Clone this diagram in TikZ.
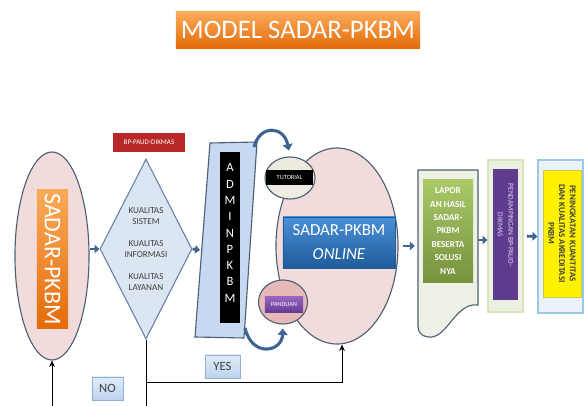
\documentclass[tikz,border=0pt]{standalone}
\usepackage{fontspec}
\setmainfont{Carlito}
\usepackage{tikz}
\usetikzlibrary{arrows.meta, positioning, shapes.geometric, calc}
\usepackage{xcolor}
\definecolor{orangelight}{RGB}{250,170,90}
\definecolor{orangedark}{RGB}{228,108,10}
\definecolor{slateline}{RGB}{79,95,115}
\definecolor{pinkfill}{RGB}{242,220,219}
\definecolor{diafill}{RGB}{220,230,242}
\definecolor{dialine}{RGB}{108,132,168}
\definecolor{adminfill}{RGB}{198,217,241}
\definecolor{bpred}{RGB}{184,40,40}
\definecolor{bluelight}{RGB}{74,144,217}
\definecolor{bluedark}{RGB}{31,92,153}
\definecolor{arrowblue}{RGB}{62,100,145}
\definecolor{tutfill}{RGB}{238,236,225}
\definecolor{panfill}{RGB}{230,185,184}
\definecolor{panlight}{RGB}{150,100,190}
\definecolor{pandark}{RGB}{100,60,150}
\definecolor{docfill}{RGB}{238,242,230}
\definecolor{greenlight}{RGB}{169,201,106}
\definecolor{greendark}{RGB}{118,146,60}
\definecolor{lgfill}{RGB}{235,241,222}
\definecolor{lgline}{RGB}{215,228,189}
\definecolor{purplebox}{RGB}{96,60,143}
\definecolor{lavender}{RGB}{220,205,240}
\definecolor{lbfill}{RGB}{234,243,250}
\definecolor{lbline}{RGB}{156,201,230}
\definecolor{yellowline}{RGB}{212,196,74}
\definecolor{nolight}{RGB}{226,236,248}
\definecolor{nodark}{RGB}{188,210,238}
\definecolor{noline}{RGB}{143,176,218}
\definecolor{gray40}{RGB}{64,64,64}

\begin{document}
\begin{tikzpicture}[x=0.025cm, y=-0.025cm,
    darkline/.style={draw=slateline, line width=0.8pt},
    blockarrow/.style={-{Triangle[length=3.5pt,width=6pt]}, line width=2pt, draw=arrowblue},
    curvearrow/.style={-{Triangle[length=4.5pt,width=7pt]}, line width=2.2pt, draw=arrowblue},
    thinarrow/.style={-{Stealth[length=4.5pt,width=4pt]}, line width=0.7pt},
    answerbox/.style={draw=noline, top color=nolight, bottom color=nodark,
        minimum height=0.575cm, inner sep=0, text=gray40,
        font=\fontsize{9}{10}\selectfont}]
    \useasboundingbox (0,0) rectangle (584,406);

    % title
    \node[top color=orangelight, bottom color=orangedark, minimum width=6.1cm,
      minimum height=0.9cm, text=white, font=\fontsize{19}{22}\selectfont]
      (title) at (298,30) {MODEL SADAR-PKBM};

    % left: SADAR-PKBM and the quality check
    \node[ellipse, darkline, fill=pinkfill, minimum width=1.85cm,
      minimum height=5.2cm, inner sep=0] (sadar) at (52,256) {};
    \node[rotate=-90, top color=orangelight, bottom color=orangedark,
      minimum width=3.45cm, minimum height=0.775cm, inner sep=0, text=white,
      font=\fontsize{17}{20}\selectfont] (sadarlabel) at (52.5,259) {SADAR-PKBM};
    \node[fill=bpred, minimum width=1.8cm, minimum height=0.475cm, inner sep=0,
      text=white, font=\fontsize{5}{6}\selectfont] (bp) at (149,142.5) {BP-PAUD-DIKMAS};
    \node[diamond, draw=dialine, line width=0.8pt, fill=diafill, minimum width=2.3cm,
      minimum height=4.5cm, inner sep=0] (dia) at (146,249) {};
    \node[align=center, text=gray40, font=\fontsize{6.5}{8.2}\selectfont]
      (diatext) at (dia) {KUALITAS\\SISTEM\\[7pt]KUALITAS\\INFORMASI\\[7pt]KUALITAS\\LAYANAN};

    % admin
    \coordinate (admTL) at (210,143);
    \coordinate (admTR) at (257,142);
    \coordinate (admBR) at (244,338);
    \coordinate (admBL) at (195,337);
    \coordinate (adminwest) at (200,250);
    \draw[darkline, fill=adminfill] (admTL) -- (admTR) -- (admBR) -- (admBL) -- cycle;
    \node[fill=black, minimum width=0.5cm, minimum height=4.275cm, inner sep=0]
      (adminbar) at (230,237.5) {};
    \node[text=white, align=center, font=\fontsize{9}{11.6}\selectfont]
      (adminlabel) at (230,233) {A\\D\\M\\I\\N\\P\\K\\B\\M};

    % SADAR-PKBM online
    \node[ellipse, darkline, fill=pinkfill, minimum width=3.05cm,
      minimum height=4.9cm, inner sep=0] (online) at (337,246) {};
    \node[top color=bluelight, bottom color=bluedark, draw=bluedark,
      minimum width=2.8cm, minimum height=1.275cm, inner sep=0, text=white,
      align=center, font=\fontsize{12}{17}\selectfont]
      (onlinelabel) at (339,242.5) {SADAR-PKBM\\\textit{ONLINE}};
    \node[ellipse, darkline, fill=tutfill, minimum width=1.25cm,
      minimum height=1.05cm, inner sep=0] (tut) at (290,178) {};
    \node[fill=black, minimum width=1.175cm, minimum height=0.375cm, inner sep=0,
      text=white, font=\fontsize{4.5}{5}\selectfont] (tutlabel) at (289.5,177.5) {TUTORIAL};
    \node[ellipse, darkline, fill=panfill, minimum width=1.225cm,
      minimum height=1.1cm, inner sep=0] (pan) at (283,302) {};
    \node[top color=panlight, bottom color=pandark, minimum width=0.95cm,
      minimum height=0.375cm, inner sep=0, text=white,
      font=\fontsize{4.5}{5}\selectfont] (panlabel) at (284,304.5) {PANDUAN};

    \draw[curvearrow, shorten >=0.15cm] (254,147) .. controls (260,124) and (284,126) .. (tut.north);
    \draw[curvearrow, shorten >=0.1cm] (245,328) .. controls (252,358) and (282,352) .. (pan.south);

    % report, assistance, goal
    \draw[darkline, fill=docfill] (418,170) -- (478,170) -- (478,305)
      .. controls (455,302) and (447,340) .. (428,337)
      .. controls (421,336) and (418,332) .. (418,326) -- cycle;
    \coordinate (docwest) at (418,246);
    \coordinate (doceast) at (478,240);
    \node[top color=greenlight, bottom color=greendark, minimum width=1.25cm,
      minimum height=2.55cm, inner sep=0, text=white, align=center,
      font=\bfseries\fontsize{6.5}{9.5}\selectfont]
      (report) at (448,231) {LAPOR\\AN HASIL\\SADAR-\\PKBM\\BESERTA\\SOLUSI\\NYA};

    \node[fill=lgfill, draw=lgline, line width=0.8pt, minimum width=0.875cm,
      minimum height=3.8cm, inner sep=0] (pendbox) at (505.5,236) {};
    \node[rotate=-90, fill=purplebox, minimum width=3.275cm, minimum height=0.625cm,
      inner sep=0] (pend) at (505.5,234.5) {};
    \node[rotate=-90, text=lavender, align=center, font=\fontsize{5.3}{7.5}\selectfont]
      (pendlabel) at (505.5,225) {PENDAMPINGAN  BP-PAUD-\\DIKMAS};

    \node[fill=lbfill, draw=lbline, line width=0.8pt, minimum width=1.125cm,
      minimum height=3.825cm, inner sep=0] (goalbox) at (560.5,236.5) {};
    \node[rotate=-90, fill=yellow, draw=yellowline, minimum width=3.175cm,
      minimum height=0.95cm, inner sep=0, text=gray40, align=center,
      font=\bfseries\fontsize{6.3}{7.6}\selectfont]
      (goal) at (562,233.5) {PENINGKATAN KUANTITAS\\DAN KUALITAS AKREDITASI\\PKBM};

    % block arrows
    \draw[blockarrow] (sadar.east |- dia) -- (dia.west);
    \draw[blockarrow] (dia.east) -- (adminwest);
    \draw[blockarrow, shorten <=0.12cm, shorten >=0.08cm] (online.east) -- (docwest);
    \draw[blockarrow] (doceast) -- (pendbox.west |- doceast);
    \draw[blockarrow, shorten <=0.08cm] (pendbox.east) -- (goalbox.west);

    % yes / no
    \coordinate (yescorner) at (342,382);
    \coordinate (nofoot) at (52,406);
    \draw[line width=0.7pt] (dia.south) -- (dia.south |- nofoot);
    \draw[thinarrow] (dia.south |- yescorner) -- (yescorner) -- (yescorner |- online.south);
    \draw[thinarrow] (nofoot) -- (sadar.south);
    \node[answerbox, minimum width=0.875cm] (yes) at (222.5,366.5) {YES};
    \node[answerbox, minimum width=0.775cm] (no) at (107.5,388.5) {NO};
\end{tikzpicture}
\end{document}
